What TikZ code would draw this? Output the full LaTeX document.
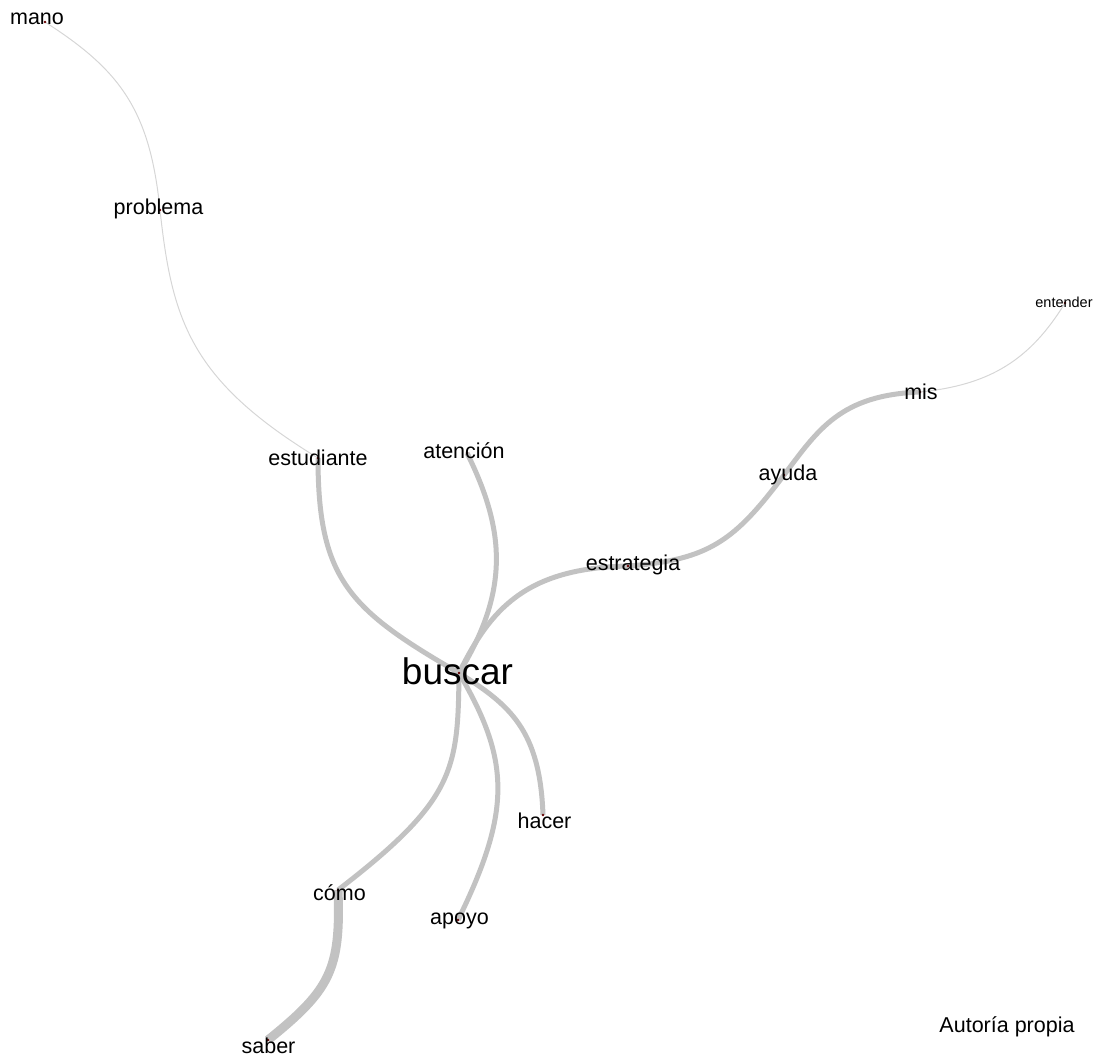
\documentclass[tikz,border=0pt]{standalone}
\usepackage{fontspec}
\setmainfont{Liberation Sans}
\begin{document}
\begin{tikzpicture}[x=1pt,y=-1pt,
  lbl/.style={anchor=base,inner sep=0pt,font=\fontsize{21.5}{25}\selectfont},
  biglbl/.style={anchor=base,inner sep=0pt,font=\fontsize{37}{42}\selectfont},
  smalllbl/.style={anchor=base,inner sep=0pt,font=\fontsize{14.5}{17}\selectfont},
  thin edge/.style={draw=black!16,line width=1pt},
  thick edge/.style={draw=black!24,line width=5pt},
  heavy edge/.style={draw=black!24,line width=9pt},
  dot/.style={fill=red!40!black,draw=none}]
\useasboundingbox (0,0) rectangle (1100,1057);
% node points
\coordinate (p-mano) at (45,22);
\coordinate (p-problema) at (160,210);
\coordinate (p-estudiante) at (318,458);
\coordinate (p-atencion) at (467,453);
\coordinate (p-buscar) at (459,673);
\coordinate (p-estrategia) at (628,566);
\coordinate (p-ayuda) at (784,475);
\coordinate (p-mis) at (920,392);
\coordinate (p-entender) at (1065,303);
\coordinate (p-hacer) at (543,815);
\coordinate (p-apoyo) at (458,920);
\coordinate (p-como) at (338,890);
\coordinate (p-saber) at (268,1040);
% edges
\draw[thin edge] (p-mano) .. controls (120,70) and (150,110) .. (p-problema);
\draw[thin edge] (p-problema) .. controls (172,320) and (190,380) .. (p-estudiante);
\draw[thin edge] (p-mis) .. controls (990,385) and (1030,360) .. (p-entender);
\draw[thick edge] (p-estudiante) .. controls (318,580) and (350,610) .. (p-buscar);
\draw[thick edge] (p-atencion) .. controls (505,530) and (510,590) .. (p-buscar);
\draw[thick edge] (p-buscar) .. controls (490,610) and (525,568) .. (p-estrategia);
\draw[thick edge] (p-estrategia) .. controls (710,560) and (735,540) .. (p-ayuda);
\draw[thick edge] (p-ayuda) .. controls (818,430) and (840,395) .. (p-mis);
\draw[thick edge] (p-buscar) .. controls (510,705) and (540,730) .. (p-hacer);
\draw[thick edge] (p-buscar) .. controls (510,760) and (512,810) .. (p-apoyo);
\draw[thick edge] (p-buscar) .. controls (458,770) and (455,800) .. (p-como);
\draw[heavy edge] (p-como) .. controls (341,970) and (330,990) .. (p-saber);
% dots
\foreach \p in {mano,problema,estudiante,atencion,buscar,estrategia,ayuda,mis,entender,hacer,apoyo,como,saber}
  \fill[dot] (p-\p) circle (1.3);
% labels
\node[lbl] (mano) at (37,25) {mano};
\node[lbl] (problema) at (158.5,214) {problema};
\node[smalllbl] (entender) at (1064,307) {entender};
\node[lbl] (mis) at (921,399) {mis};
\node[lbl] (estudiante) at (318,465) {estudiante};
\node[lbl] (atencion) at (464,458) {atención};
\node[lbl] (ayuda) at (788,480) {ayuda};
\node[lbl] (estrategia) at (633,570) {estrategia};
\node[biglbl] (buscar) at (457.5,684) {buscar};
\node[lbl] (hacer) at (544.5,828) {hacer};
\node[lbl] (como) at (339.5,900) {cómo};
\node[lbl] (apoyo) at (459.5,924) {apoyo};
\node[lbl] (saber) at (268.5,1053) {saber};
\node[lbl] (autoria) at (1007,1032) {Autoría propia};
\end{tikzpicture}
\end{document}
